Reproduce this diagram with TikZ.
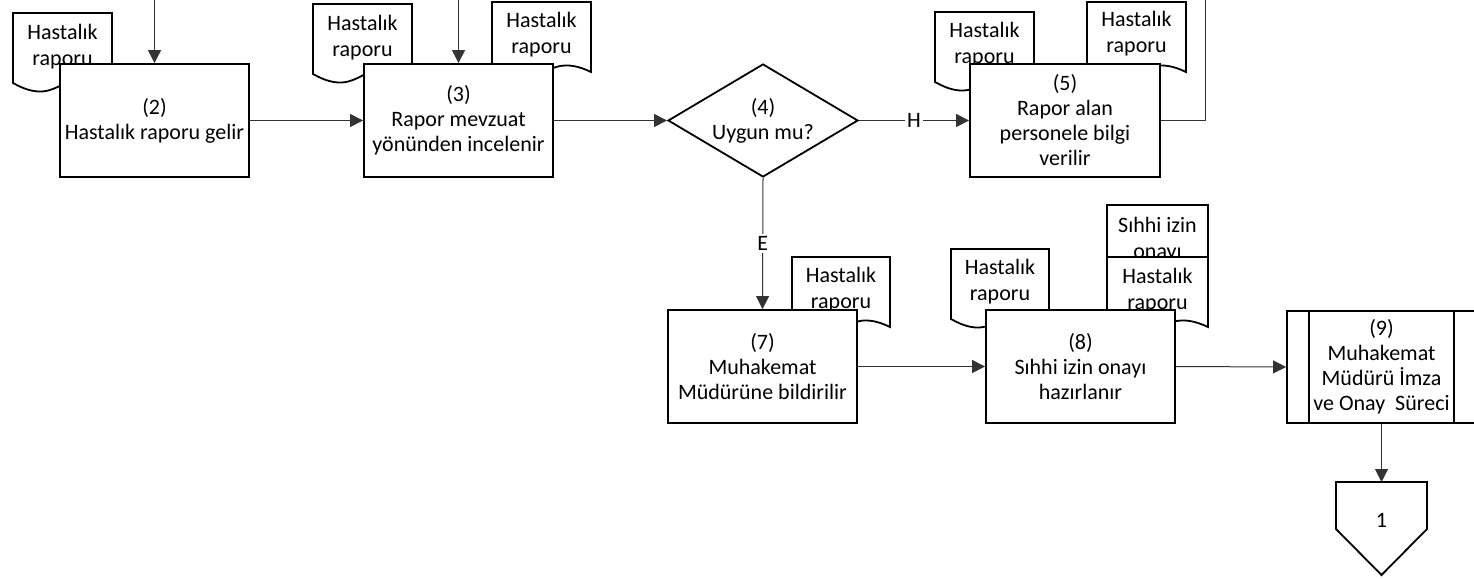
\documentclass[tikz,border=0pt]{standalone}
\usepackage{fontspec}
\setmainfont{Carlito}
\usetikzlibrary{arrows.meta,shapes.geometric}
\newcommand\fsz{\fontsize{22}{25}\selectfont}
\newcommand\dsz{\fontsize{22}{26}\selectfont}
\newcommand\docsh[6]{% name, x, y, width, text, text offset
  \draw[docline] (#2,#3) -- ({#2+#4},#3) -- ({#2+#4},{#3+70})
    .. controls ({#2+#4/2},{#3+46}) and ({#2+#4/2},{#3+98}) .. (#2,{#3+70}) -- cycle;
  \node[doctext] (#1) at ({#2+#4/2},{#3+#6}) {#5};
}
\begin{document}
\begin{tikzpicture}[x=1pt,y=-1pt,
  box/.style={draw, line width=1.8pt, fill=white, minimum width=189pt, minimum height=113pt,
    inner sep=2pt, align=center, font=\fsz},
  decision/.style={diamond, draw, line width=1.8pt, fill=white, minimum width=190pt,
    minimum height=113pt, shape aspect=1.68, inner sep=0pt, align=center, font=\fsz},
  docline/.style={draw, line width=1.8pt, fill=white},
  doctext/.style={inner sep=0pt, align=center, font=\dsz},
  conn/.style={draw=black!80, line width=1pt},
  arr/.style={conn, -{Triangle[length=13pt,width=13pt]}},
  lbl/.style={fill=white, inner sep=2pt, font=\fsz}]
\useasboundingbox (0,0) rectangle (1474,578);

% documents (behind boxes)
\docsh{d2}{13}{13}{99}{Hastalık\\raporu}{34}
\docsh{d3a}{313}{4}{99}{Hastalık\\raporu}{34}
\docsh{d3b}{492}{2}{99}{Hastalık\\raporu}{33}
\docsh{d5a}{935}{12}{99}{Hastalık\\raporu}{33}
\docsh{d5b}{1087}{2}{99}{Hastalık\\raporu}{32}
\docsh{d7}{792}{257}{98}{Hastalık\\raporu}{33}
\docsh{d8a}{951}{249}{98}{Hastalık\\raporu}{33}
\docsh{d8s}{1107}{205}{101}{Sıhhi izin\\onayı}{35}
\docsh{d8b}{1107}{257}{101}{Hastalık\\raporu}{34}

% process boxes
\node[box] (b2) at (154.5,120.5) {(2)\\Hastalık raporu gelir};
\node[box] (b3) at (458.5,120.5) {(3)\\Rapor mevzuat\\yönünden incelenir};
\node[decision] (d4) at (763,120.5) {(4)\\Uygun mu?};
\node[box, minimum width=190pt] (b5) at (1065,120.5) {(5)\\Rapor alan\\personele bilgi\\verilir};
\node[box] (b7) at (762.5,366.5) {(7)\\Muhakemat\\Müdürüne bildirilir};
\node[box] (b8) at (1080.5,366.5) {(8)\\Sıhhi izin onayı\\hazırlanır};
\node[box, minimum height=112pt] (b9) at (1381.5,367) {(9)\\Muhakemat\\Müdürü İmza\\ve Onay~~Süreci};
\draw[line width=1.8pt] ([xshift=23pt]b9.north west) -- ([xshift=23pt]b9.south west);
\draw[line width=1.8pt] ([xshift=-23pt]b9.north east) -- ([xshift=-23pt]b9.south east);

% off-page connector
\draw[line width=1.8pt, fill=white] (1336,482) -- (1427,482) -- (1427,529) -- (1381.5,575) -- (1336,529) -- cycle;
\coordinate (c1t) at (1381.5,482);
\node[font=\fsz] (c1) at (1381.5,520) {1};

% connectors
\coordinate (t2) at (154.5,0);
\coordinate (t3) at (458.5,0);
\coordinate (r5a) at (1205,120.5);
\coordinate (r5b) at (1205,0);
\draw[arr] (t2) -- (b2.north);
\draw[arr] (t3) -- (b3.north);
\draw[arr] (b2.east) -- (b3.west);
\draw[arr] (b3.east) -- (d4.west);
\draw[arr] (d4.east) -- node[lbl]{H} (b5.west);
\draw[conn] (b5.east) -- (r5a) -- (r5b);
\draw[arr] (d4.south) -- node[lbl]{E} (b7.north);
\draw[arr] (b7.east) -- (b8.west);
\draw[arr] (b8.east) -- (b9.west);
\draw[arr] (b9.south) -- (c1t);
\end{tikzpicture}
\end{document}
